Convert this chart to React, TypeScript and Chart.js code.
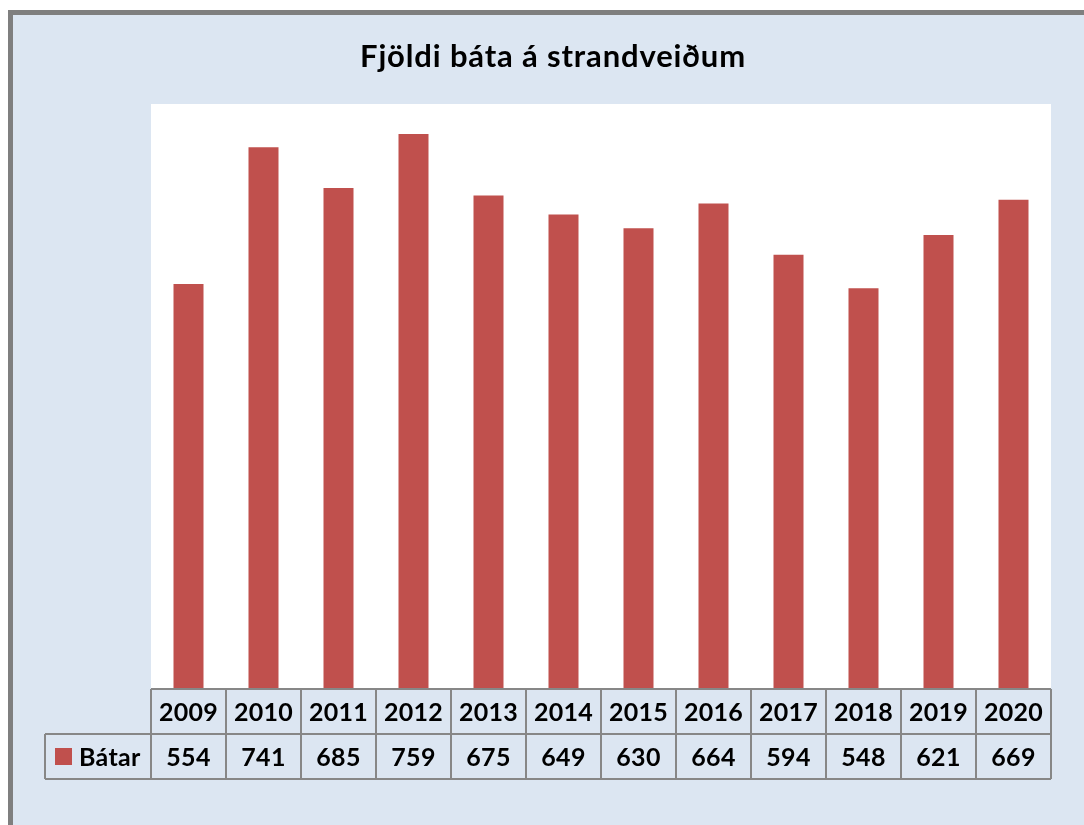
import React, { useEffect, useRef } from "react";
import { Chart, registerables } from "chart.js";

Chart.register(...registerables);

const title = "Fjöldi báta á strandveiðum";
const years = ["2009", "2010", "2011", "2012", "2013", "2014", "2015", "2016", "2017", "2018", "2019", "2020"];
const seriesName = "Bátar";
const boats = [554, 741, 685, 759, 675, 649, 630, 664, 594, 548, 621, 669];

const BAR_COLOR = "#c0504d";
const GRID = "#878787";
const FONT = "Lato, 'Open Sans', sans-serif";

const tablePlugin = {
  id: "tablePlugin",
  beforeDraw(chart: any) {
    const { ctx, chartArea } = chart;
    ctx.save();
    ctx.fillStyle = "#ffffff";
    ctx.fillRect(chartArea.left, chartArea.top, chartArea.right - chartArea.left, chartArea.bottom - chartArea.top);
    ctx.restore();
  },
  afterDraw(chart: any) {
    const { ctx, chartArea } = chart;
    const xs = chart.scales.x;
    const colW = xs.getPixelForValue(1) - xs.getPixelForValue(0);
    const rowH = 45;
    const top = chartArea.bottom;
    const mid = top + rowH;
    const bot = mid + rowH;
    const legendLeft = chartArea.left - 106;
    ctx.save();
    // title
    ctx.fillStyle = "#000";
    ctx.font = `bold 31px ${FONT}`;
    (ctx as any).letterSpacing = "0.85px";
    ctx.textAlign = "center";
    ctx.textBaseline = "alphabetic";
    ctx.fillText(title, 553, 67);
    (ctx as any).letterSpacing = "0px";

    // grid lines
    ctx.strokeStyle = GRID;
    ctx.lineWidth = 2;
    ctx.beginPath();
    ctx.moveTo(chartArea.left, top);
    ctx.lineTo(chartArea.right, top);
    ctx.moveTo(legendLeft, mid);
    ctx.lineTo(chartArea.right, mid);
    ctx.moveTo(legendLeft, bot);
    ctx.lineTo(chartArea.right, bot);
    ctx.moveTo(legendLeft, mid);
    ctx.lineTo(legendLeft, bot);
    for (let i = 0; i <= years.length; i++) {
      const xp = Math.round(chartArea.left + i * colW);
      ctx.moveTo(xp, top);
      ctx.lineTo(xp, bot);
    }
    ctx.stroke();

    // text
    ctx.textBaseline = "middle";
    ctx.font = `bold 25px ${FONT}`;
    (ctx as any).letterSpacing = "0.3px";
    ctx.fillStyle = "#000";
    years.forEach((y, i) => {
      const cx = xs.getPixelForValue(i);
      ctx.fillText(y, cx, top + rowH / 2 + 1);
      ctx.fillText(String(boats[i]), cx, mid + rowH / 2 + 1);
    });
    // legend cell
    ctx.fillStyle = BAR_COLOR;
    ctx.fillRect(legendLeft + 10, mid + 14, 17, 17);
    ctx.fillStyle = "#000";
    ctx.textAlign = "left";
    ctx.fillText(seriesName, legendLeft + 34, mid + rowH / 2 + 1);
    ctx.restore();
  },
};

export default function App() {
  const ref = useRef<HTMLCanvasElement>(null);
  useEffect(() => {
    if (!ref.current) return;
    const chart = new Chart(ref.current, {
      type: "bar",
      data: {
        labels: years,
        datasets: [
          {
            label: seriesName,
            data: boats,
            backgroundColor: BAR_COLOR,
            borderWidth: 0,
            categoryPercentage: 1,
            barPercentage: 0.4,
          },
        ],
      },
      options: {
        animation: false,
        responsive: false,
        layout: { padding: { left: 151, right: 33, top: 104, bottom: 136 } },
        plugins: { legend: { display: false }, title: { display: false }, tooltip: { enabled: false } },
        scales: {
          x: { display: false, offset: true, grid: { display: false } },
          y: { display: false, min: 0, max: 800 },
        },
      },
      plugins: [tablePlugin],
    });
    return () => chart.destroy();
  }, []);
  return (
    <div style={{ position: "absolute", left: 0, top: 0, width: 1084, height: 825, background: "#fff", overflow: "hidden" }}>
      <div
        style={{
          position: "absolute",
          left: 8,
          top: 10,
          width: 1200,
          height: 1000,
          background: "#dce6f2",
          borderLeft: "5px solid #7f7f7f",
          borderTop: "5px solid #7f7f7f",
        }}
      />
      <canvas ref={ref} width={1084} height={825} style={{ position: "absolute", left: 0, top: 0 }} />
    </div>
  );
}
